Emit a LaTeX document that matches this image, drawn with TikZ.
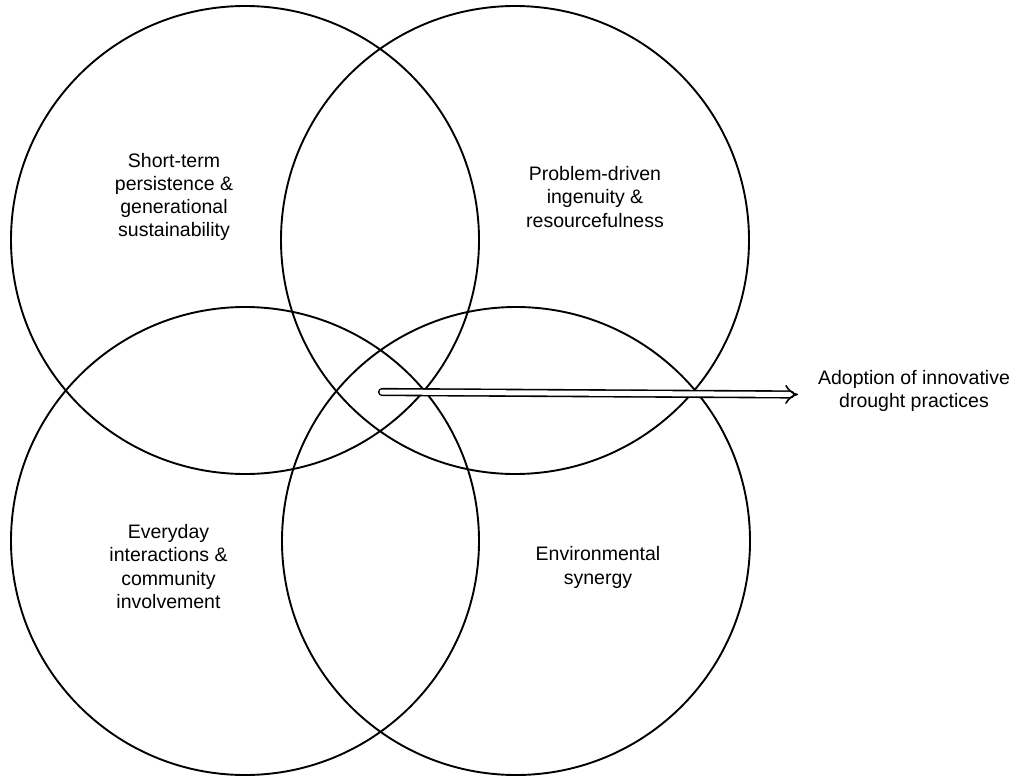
\documentclass[tikz,border=0pt]{standalone}
\usepackage{fontspec}
\setmainfont{Liberation Sans}
\usetikzlibrary{arrows.meta}
\begin{document}
\begin{tikzpicture}[x=1pt,y=-1pt,
  ring/.style={circle, draw, line width=1.9pt, minimum size=468pt, inner sep=0pt},
  lbl/.style={align=center, inner sep=0pt, font=\fontsize{19.5}{23.3}\selectfont},
  bigarrow/.style={draw, line width=1.6pt, double=white, double distance=5pt, line cap=round, -{Implies[length=7pt,width=16pt]}}]
\useasboundingbox (0,0) rectangle (1016,776);
\node[ring] (tl) at (245,240) {};
\node[ring] (tr) at (515,240) {};
\node[ring] (bl) at (245,541) {};
\node[ring] (br) at (516,541) {};
\node[lbl] (ltl) at (174,197) {Short-term\\persistence \&\\generational\\sustainability};
\node[lbl] (ltr) at (595,197) {Problem-driven\\ingenuity \&\\resourcefulness};
\node[lbl] (lbl1) at (168.5,566.5) {Everyday\\interactions \&\\community\\involvement};
\node[lbl] (lbr) at (598,567.5) {Environmental\\synergy};
\node[lbl] (adopt) at (914,391) {Adoption of innovative\\drought practices};
\coordinate (a0) at (382,392);
\coordinate (a1) at (798,394.5);
\draw[bigarrow] (a0) -- (a1);
\end{tikzpicture}
\end{document}
